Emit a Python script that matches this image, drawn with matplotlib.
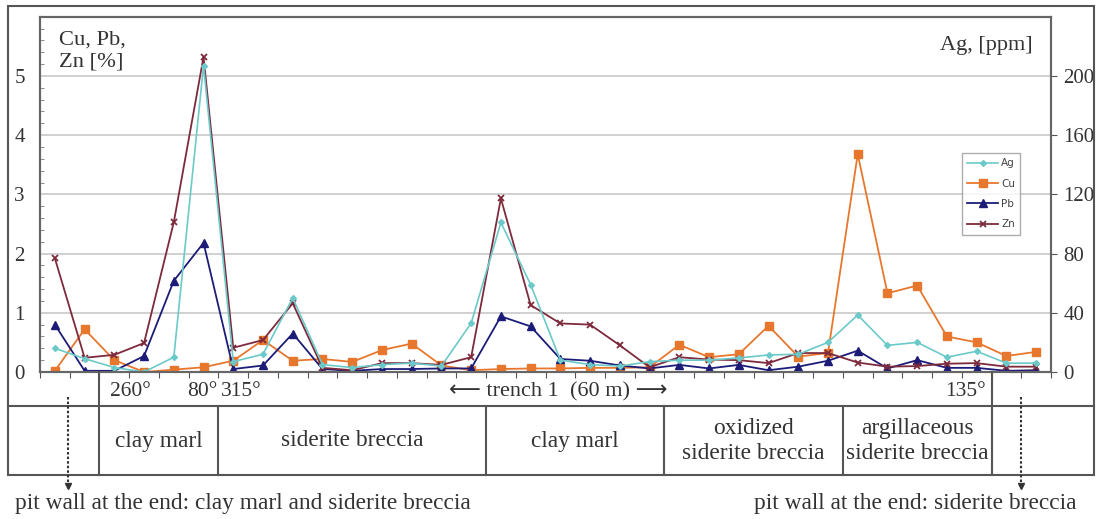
import matplotlib
matplotlib.use("Agg")
import matplotlib.pyplot as plt
from matplotlib.lines import Line2D
from matplotlib.patches import Rectangle
import matplotlib.transforms as mtransforms
import numpy as np

# ---------------- data ----------------
samples = list(range(34))
ag_ppm = [16, 9, 3, 0, 10, 207, 7, 12, 50, 5, 3, 5, 6, 4, 33, 101, 59, 8, 5, 4,
          7, 8, 8, 9.5, 11.5, 12, 20, 38.5, 18, 20, 10, 14, 6, 6]
cu_pct = [0.02, 0.72, 0.20, 0.0, 0.04, 0.08, 0.19, 0.54, 0.19, 0.22, 0.17, 0.37,
          0.48, 0.11, 0.03, 0.05, 0.06, 0.06, 0.07, 0.07, 0.08, 0.46, 0.25, 0.30,
          0.78, 0.26, 0.32, 3.68, 1.33, 1.46, 0.60, 0.50, 0.27, 0.34]
pb_pct = [0.80, 0.02, 0.02, 0.27, 1.54, 2.18, 0.05, 0.11, 0.65, 0.05, 0.02, 0.05,
          0.05, 0.06, 0.06, 0.94, 0.77, 0.22, 0.19, 0.11, 0.06, 0.12, 0.06, 0.12,
          0.03, 0.09, 0.19, 0.36, 0.06, 0.20, 0.07, 0.07, 0.02, 0.03]
zn_pct = [1.92, 0.24, 0.29, 0.49, 2.53, 5.32, 0.41, 0.54, 1.16, 0.07, 0.03, 0.15,
          0.15, 0.12, 0.25, 2.93, 1.13, 0.82, 0.80, 0.45, 0.08, 0.25, 0.21, 0.20,
          0.15, 0.32, 0.32, 0.16, 0.09, 0.10, 0.14, 0.15, 0.09, 0.09]

left_ticks = [0, 1, 2, 3, 4, 5]
right_ticks = [0, 40, 80, 120, 160, 200]

# lithology table: boundaries (between samples) and labels
boundaries = [1.5, 5.5, 14.5, 20.5, 26.5, 31.5]
litho_labels = ["clay marl", "siderite breccia", "clay marl",
                "oxidized\nsiderite breccia", "argillaceous\nsiderite breccia"]
angle_labels = ["260°", "80°", "315°", "135°"]

# ---------------- figure ----------------
W, H = 1096, 519
fig = plt.figure(figsize=(W / 100, H / 100), dpi=100)
serif = ["Liberation Serif", "DejaVu Serif"]
plt.rcParams["font.family"] = serif

def fx(px):
    return px / W

def fy(py):
    return 1 - py / H

ax_l, ax_r, ax_t, ax_b = 40, 1051, 16.7, 372
ax = fig.add_axes([fx(ax_l), fy(ax_b), fx(ax_r) - fx(ax_l), fy(ax_t) - fy(ax_b)])
ax2 = ax.twinx()

c_ag = "#6cc9c9"
c_cu = "#e8772e"
c_pb = "#1c1c78"
c_zn = "#7d2a3c"

h_cu, = ax.plot(samples, cu_pct, color=c_cu, lw=1.3, marker="s", ms=5.5,
                label="Cu", zorder=3)
h_pb, = ax.plot(samples, pb_pct, color=c_pb, lw=1.3, marker="^", ms=5.5,
                label="Pb", zorder=4)
h_zn, = ax.plot(samples, zn_pct, color=c_zn, lw=1.3, marker="x", ms=5, mew=1.3,
                label="Zn", zorder=5)
h_ag, = ax2.plot(samples, ag_ppm, color=c_ag, lw=1.2, marker="D", ms=3,
                 label="Ag", zorder=2)

ax.set_xlim(-0.5, 33.5)
ax.set_ylim(0, 6)
ax2.set_ylim(0, 240)
ax.set_yticks(left_ticks)
ax.set_yticks(np.arange(0, 6.01, 0.2), minor=True)
ax2.set_yticks(right_ticks)
ax.set_xticks(np.arange(-0.5, 33.6, 1.0))
ax.set_xticklabels([])
ax.tick_params(axis="x", direction="out", length=4, color="#555555")
ax.tick_params(axis="y", which="major", direction="in", length=0,
               labelsize=15, pad=11, labelcolor="#333333")
ax.tick_params(axis="y", which="minor", direction="in", length=3, color="#777777")
ax2.tick_params(axis="y", direction="out", length=4, labelsize=15, pad=5,
                labelcolor="#333333", color="#555555")
ax.grid(axis="y", which="major", color="#c8c8c8", lw=1.2)
ax.set_axisbelow(True)
for a in (ax, ax2):
    for s in a.spines.values():
        s.set_color("#666666")
        s.set_linewidth(1.5)

ax.text(0.019, 0.962, "Cu, Pb,\nZn [%]", transform=ax.transAxes, ha="left",
        va="top", fontsize=16.2, color="#333333", linespacing=1.2)
ax.text(0.982, 0.945, "Ag, [ppm]", transform=ax.transAxes, ha="right",
        va="top", fontsize=16, color="#333333")

leg = ax2.legend(handles=[h_ag, h_cu, h_pb, h_zn], loc="upper left",
                 bbox_to_anchor=((962 - ax_l) / (ax_r - ax_l),
                                 1 - (153 - ax_t) / (ax_b - ax_t)),
                 prop={"family": "DejaVu Sans", "size": 7.5}, frameon=True,
                 fancybox=False, edgecolor="#999999", handlelength=3.0,
                 borderpad=0.5, labelspacing=1.0, handletextpad=0.25,
                 borderaxespad=0)
leg.get_frame().set_linewidth(1.0)
for t in leg.get_texts():
    t.set_color("#444444")

# ---------------- frame and table ----------------
lc = "#555555"
def fline(x0, y0, x1, y1, **kw):
    fig.add_artist(Line2D([fx(x0), fx(x1)], [fy(y0), fy(y1)], color=lc, lw=1.5, **kw))

# outer frame
fig.add_artist(Rectangle((fx(8), fy(475)), fx(1094) - fx(8), fy(6) - fy(475),
                         fill=False, edgecolor=lc, lw=1.5, transform=fig.transFigure))
fline(8, 406, 1094, 406)

bt = mtransforms.blended_transform_factory(ax.transData, fig.transFigure)
for b in boundaries:
    ytop = ax_b if b in (boundaries[0], boundaries[-1]) else 406
    fig.add_artist(Line2D([b, b], [fy(ytop), fy(475)], color=lc, lw=1.5,
                          transform=bt, clip_on=False))
tfs = 16.8
for i, lab in enumerate(litho_labels):
    xm = 0.5 * (boundaries[i] + boundaries[i + 1])
    fig.text(xm, fy(441), lab, transform=bt, ha="center", va="center",
             fontsize=tfs, color="#333333", linespacing=1.3)

# angle labels row
afs = 15.5
fig.text(fx(110), fy(392), angle_labels[0], ha="left", va="center", fontsize=afs, color="#333333")
fig.text(fx(217), fy(392), angle_labels[1], ha="right", va="center", fontsize=afs, color="#333333")
fig.text(fx(221), fy(392), angle_labels[2], ha="left", va="center", fontsize=afs, color="#333333")
fig.text(fx(986), fy(392), angle_labels[3], ha="right", va="center", fontsize=afs, color="#333333")
fig.text(fx(558), fy(392), "\u27f5 trench 1  (60 m) \u27f6", ha="center", va="center",
         fontsize=afs + 0.5, color="#333333",
         family=["Liberation Serif", "DejaVu Sans"])

# dotted arrows to pit walls
for xa in (68, 1021):
    fig.add_artist(Line2D([fx(xa), fx(xa)], [fy(397), fy(484)], color="#333333",
                          lw=1.5, ls=(0, (1.2, 1.0))))
    fig.add_artist(Line2D([fx(xa)], [fy(486)], color="#333333", marker="v", ms=5))

fig.text(fx(15), fy(503), "pit wall at the end: clay marl and siderite breccia",
         ha="left", va="center", fontsize=tfs, color="#333333")
fig.text(fx(1077), fy(503), "pit wall at the end: siderite breccia",
         ha="right", va="center", fontsize=tfs, color="#333333")

fig.savefig("out.png", dpi=100)
